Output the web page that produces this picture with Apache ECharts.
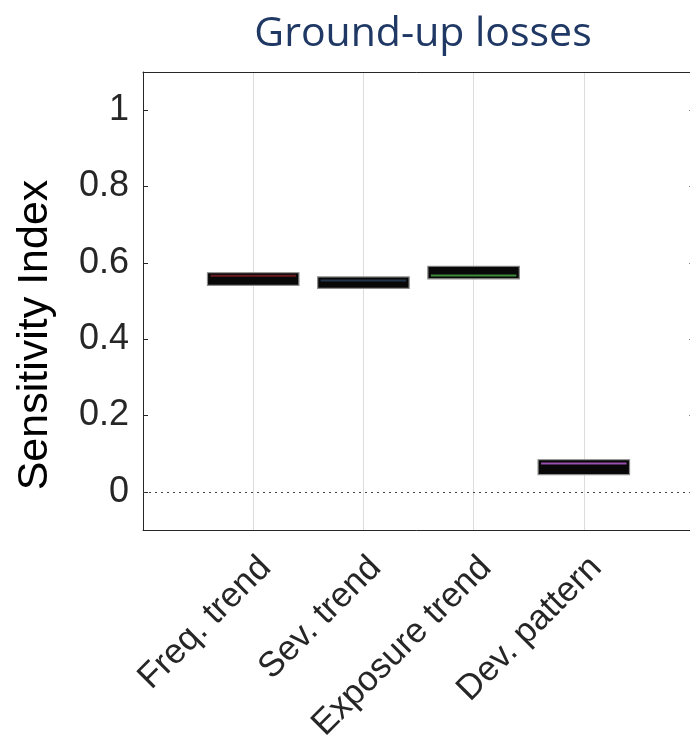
<!DOCTYPE html>
<html>
<head>
<meta charset="utf-8">
<script src="https://cdn.jsdelivr.net/npm/echarts@6/dist/echarts.min.js"></script>
<style>
  html, body { margin: 0; padding: 0; background: #ffffff; }
  #chart { width: 690px; height: 752px; }
</style>
</head>
<body>
<div id="chart"></div>
<script>
// Sensitivity index per factor: box bottom, box top and median
const categories = ['Freq. trend', 'Sev. trend', 'Exposure trend', 'Dev. pattern'];
const boxLow    = [0.541, 0.533, 0.558, 0.045];
const boxHigh   = [0.574, 0.563, 0.591, 0.084];
const medians   = [0.566, 0.554, 0.567, 0.074];
const lineColors = ['#6b1a1f', '#22344a', '#3f8a3a', '#9a4fae'];
const yTicks = [0, 0.2, 0.4, 0.6, 0.8, 1];

const boxData = categories.map((c, i) => [i + 1, boxLow[i], boxHigh[i], medians[i]]);

const AXIS = '#262626';
const FONT = 'Liberation Sans';

function renderBox(params, api) {
  const x = api.value(0);
  const half = 0.415;
  const p1 = api.coord([x - half, api.value(2)]);
  const p2 = api.coord([x + half, api.value(1)]);
  const pm = api.coord([x, api.value(3)]);
  const color = lineColors[params.dataIndex];
  return {
    type: 'group',
    children: [
      {
        type: 'rect',
        shape: { x: p1[0], y: p1[1], width: p2[0] - p1[0], height: p2[1] - p1[1] },
        style: { fill: '#080808', stroke: '#8c8c8c', lineWidth: 1.2 }
      },
      {
        type: 'line',
        shape: { x1: p1[0] + 3, y1: pm[1], x2: p2[0] - 3, y2: pm[1] },
        style: { stroke: color, lineWidth: 2 }
      }
    ]
  };
}

const chart = echarts.init(document.getElementById('chart'), null, { renderer: 'canvas' });
chart.setOption({
  backgroundColor: '#ffffff',
  animation: false,
  title: {
    text: 'Ground-up losses',
    left: 418,
    top: 9,
    textAlign: 'center',
    textStyle: { fontFamily: 'Open Sans', fontWeight: 'normal', fontSize: 41, color: '#1f3864' }
  },
  grid: { left: 143, top: 72, width: 551, height: 458, outerBoundsMode: 'none', containLabel: false },
  xAxis: [
    {
      type: 'value', min: 0, max: 5, interval: 1, position: 'bottom',
      axisLine: { show: true, onZero: false, lineStyle: { color: AXIS, width: 1 } },
      axisTick: { show: false },
      splitLine: { show: true, lineStyle: { color: '#dcdcdc', width: 1 } },
      axisLabel: {
        rotate: 45, align: 'right', verticalAlign: 'top', margin: 20,
        fontFamily: FONT, fontSize: 35, color: AXIS,
        formatter: v => (v >= 1 && v <= categories.length) ? categories[v - 1] : ''
      }
    },
    {
      type: 'value', min: 0, max: 5, position: 'top',
      axisLine: { show: true, onZero: false, lineStyle: { color: AXIS, width: 1 } },
      axisTick: { show: false }, axisLabel: { show: false }, splitLine: { show: false }
    }
  ],
  yAxis: [
    {
      type: 'value', min: -0.1, max: 1.1, position: 'left',
      name: 'Sensitivity Index', nameLocation: 'middle', nameGap: 86,
      nameTextStyle: { fontFamily: FONT, fontSize: 43, color: '#000000', padding: [0, 68, 0, 0] },
      axisLine: { show: true, onZero: false, lineStyle: { color: AXIS, width: 1 } },
      axisTick: { show: true, inside: true, length: 5, customValues: yTicks, lineStyle: { color: AXIS } },
      axisLabel: { customValues: yTicks, margin: 14, fontFamily: FONT, fontSize: 36, color: AXIS },
      splitLine: { show: false }
    },
    {
      type: 'value', min: -0.1, max: 1.1, position: 'right',
      axisLine: { show: false, onZero: false },
      axisTick: { show: true, inside: true, length: 5, customValues: yTicks, lineStyle: { color: '#888' } },
      axisLabel: { show: false },
      splitLine: { show: false }
    }
  ],
  series: [
    {
      type: 'custom',
      xAxisIndex: 0, yAxisIndex: 0,
      renderItem: renderBox,
      data: boxData,
      encode: { x: 0, y: [1, 2, 3] },
      clip: false,
      markLine: {
        silent: true, symbol: 'none', label: { show: false },
        lineStyle: { type: [2, 4], color: '#444444', width: 1 },
        data: [{ yAxis: 0 }]
      },
      z: 5
    }
  ]
});
</script>
</body>
</html>
